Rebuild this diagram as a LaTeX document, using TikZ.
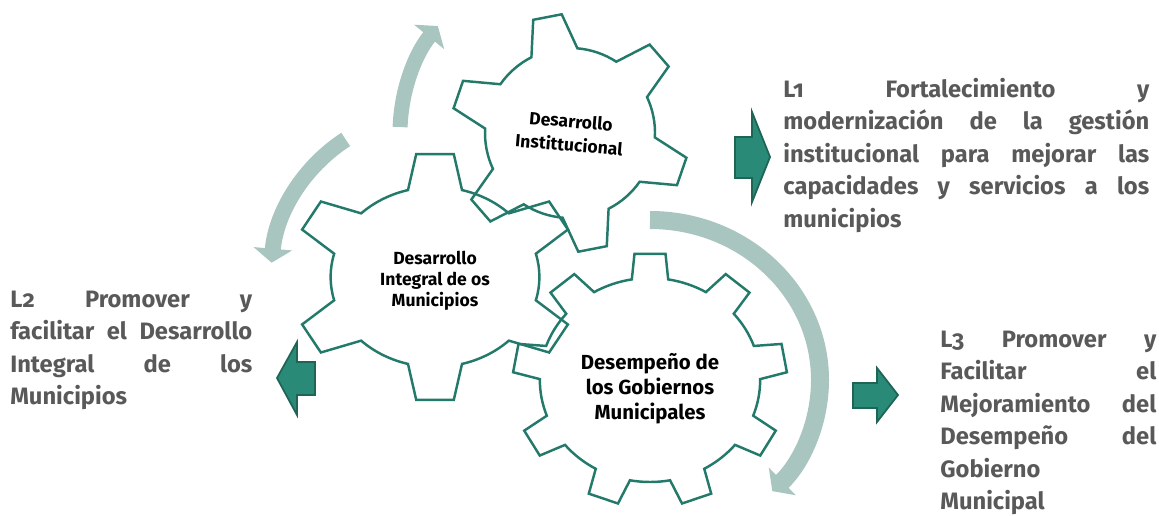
\documentclass[tikz,border=0pt]{standalone}
\usepackage{fontspec}
\setmainfont{Fira Sans}
\newfontfamily\linefont[Numbers=OldStyle]{Fira Sans}
\usetikzlibrary{arrows.meta}

% gear outline: teeth, first tooth angle, inner radius, outer radius, half base angle, half tip angle
\newcommand{\gear}[6]{%
  \pgfmathsetmacro{\gstep}{360/#1}
  \draw[gear line] (#2-#5:#3)
  \foreach \k [evaluate=\k as \a using #2+(\k-1)*\gstep] in {1,...,#1} {
    -- (\a-#6:#4) -- (\a+#6:#4) -- (\a+#5:#3)
    arc[start angle=\a+#5, end angle=\a+\gstep-#5, radius=#3]
  } -- cycle;
}
% one justified line of a text block
\newcommand{\jline}[1]{\makebox[\hsize][s]{\spaceskip=0pt #1}\\}

\begin{document}
\begin{tikzpicture}
    [x=0.02cm, y=0.02cm,
    % Styles
    gear line/.style={gearcolor, line width=1.4pt, line join=miter},
    gear text/.style={align=center, text=black, font=\bfseries},
    turn arrow/.style={arccolor, line width=#1, -{Triangle[width=0.76cm, length=0.28cm]}},
    block arrow/.style={fill=blockfill, draw=blockdraw, line width=1pt, line join=miter},
    line text/.style={anchor=base west, inner sep=0pt, align=justify, text=linetext,
      font=\linefont\bfseries\fontsize{13.5}{18.5}\selectfont}]

    % Colors
    \definecolor{gearcolor}{HTML}{23796A}
    \definecolor{arccolor}{HTML}{A9C5BF}
    \definecolor{blockfill}{HTML}{2A8A78}
    \definecolor{blockdraw}{HTML}{1E6556}
    \definecolor{linetext}{HTML}{595959}

    \useasboundingbox (0,0) rectangle (1159,515);

    % Gear centres
    \coordinate (g1) at (570,382);
    \coordinate (g2) at (435,238);
    \coordinate (g3) at (650,135);

    % Gears
    \begin{scope}[shift={(g1)}]
      \gear{6}{41}{85}{119}{16}{7}
    \end{scope}
    \begin{scope}[shift={(g2)}, xscale=1.16]
      \gear{6}{30}{90}{124}{15}{7.5}
    \end{scope}
    \begin{scope}[shift={(g3)}, xscale=1.08]
      \gear{9}{10}{102}{127}{9.5}{6.5}
    \end{scope}

    % Gear labels
    \node[gear text, rotate=-5, font=\bfseries\fontsize{10}{13.5}\selectfont] (instlabel) at (g1) {Desarrollo\\Instittucional};
    \node[gear text, font=\bfseries\fontsize{10}{12}\selectfont] (integlabel) at ([yshift=-2]g2) {Desarrollo\\Integral de os\\Municipios};
    \node[gear text, font=\bfseries\fontsize{11.6}{14.3}\selectfont] (desemplabel) at ([yshift=-5]g3) {Desempeño de\\los Gobiernos\\Municipales};

    % Turning arrows
    \draw[turn arrow=0.3cm] (g1) ++(178:170) arc[start angle=178, end angle=141, radius=170];
    \draw[turn arrow=0.32cm] (g2) ++(123:164) arc[start angle=123, end angle=175, radius=164];
    \draw[turn arrow=0.36cm] (g3) ++(90:170 and 160) arc[start angle=90, end angle=-44, x radius=170, y radius=160];

    % Block arrows
    \draw[block arrow] (735,337) -- (752,337) -- (752,313) -- (770,358) -- (752,403) -- (752,378) -- (735,378) -- cycle;
    \draw[block arrow] (315,153) -- (297,153) -- (297,173) -- (277,137) -- (297,100) -- (297,120) -- (315,120) -- cycle;
    \draw[block arrow] (853,107) -- (877,107) -- (877,93) -- (898,120) -- (877,147) -- (877,132) -- (853,132) -- cycle;

    % Text blocks
    \node[line text, text width=7.32cm] (l1text) at (783,418) {%
      \jline{L1 Fortalecimiento y}
      \jline{modernización de la gestión}
      \jline{institucional para mejorar las}
      \jline{capacidades y servicios a los}
      municipios};
    \node[line text, text width=4.84cm] (l2text) at (10,208) {%
      \jline{L2 Promover y}
      \jline{facilitar el Desarrollo}
      \jline{Integral de los}
      Municipios};
    \node[line text, text width=4.32cm] (l3text) at (940,168) {%
      \jline{L3 Promover y}
      \jline{Facilitar el}
      \jline{Mejoramiento del}
      \jline{Desempeño del}
      Gobierno\\
      Municipal};
\end{tikzpicture}
\end{document}
